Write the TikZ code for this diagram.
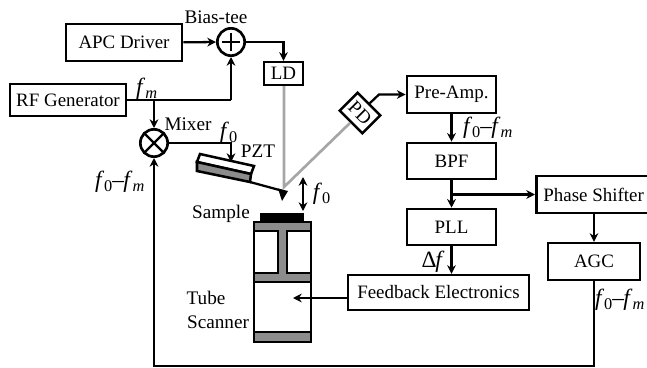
\documentclass[tikz,border=0pt]{standalone}
\usepackage{fontspec}
\setmainfont{Liberation Serif}
\usetikzlibrary{arrows.meta}
\newcommand{\fsym}[1]{\textit{f}\textsubscript{#1}}
\newcommand{\fdiff}{\textit{f}\textsubscript{0}\kern-.5pt--\kern-.5pt\textit{f}\textsubscript{\textit{m}}}
\tikzset{
  box/.style={draw=black,line width=1.9pt,inner sep=0pt,fill=white,font=\fontsize{14.2}{16}\selectfont,align=center},
  lab/.style={inner sep=0pt,font=\fontsize{14.4}{16}\selectfont,align=center},
  flab/.style={inner sep=0pt,font=\fontsize{17.5}{20}\selectfont},
  circ/.style={draw=black,circle,line width=2pt,minimum size=20.5pt,inner sep=0pt,fill=white},
  conn/.style={line width=1.7pt,-{Stealth[length=6.5pt,width=6.5pt]}},
  plain/.style={line width=1.7pt},
  beam/.style={draw=black!35,line width=2pt},
  part/.style={draw=black,line width=1.9pt},
  tubegrey/.style={draw=black,line width=1.9pt,fill=black!45}
}
\begin{document}
\begin{tikzpicture}[x=.75pt,y=-.75pt]
\useasboundingbox (0,0) rectangle (647,368);
% boxes
\node[box,minimum width=87pt,minimum height=27.5pt] (apc) at (124,42.5) {APC Driver};
\node[box,minimum width=87pt,minimum height=24pt] (rf) at (68,100) {RF Generator};
\node[box,minimum width=29pt,minimum height=17pt] (ld) at (283.5,73.5) {LD};
\node[box,minimum width=67pt,minimum height=27.5pt] (pre) at (451.5,94.5) {Pre-Amp.};
\node[box,minimum width=67pt,minimum height=27pt] (bpf) at (451.5,161) {BPF};
\node[box,minimum width=67pt,minimum height=27pt] (pll) at (451.5,227) {PLL};
\node[box,minimum width=136pt,minimum height=26pt] (fb) at (438.5,292.5) {Feedback Electronics};
\node[box,minimum width=86pt,minimum height=28pt,anchor=west] (ps) at (535,194.5) {Phase Shifter};
\node[box,minimum width=69pt,minimum height=27.5pt] (agc) at (594,261.5) {AGC};
\node[box,rotate=-45,minimum width=24pt,minimum height=19pt] (pd) at (360,113) {PD};
\node[circ] (plus) at (231,42) {};
\draw[line width=1.6pt] ([xshift=-6.5pt]plus.center) -- ([xshift=6.5pt]plus.center);
\draw[line width=1.6pt] ([yshift=-6.5pt]plus.center) -- ([yshift=6.5pt]plus.center);
\node[circ] (mix) at (154,143) {};
\draw[line width=1.8pt] (mix.45) -- (mix.225) (mix.135) -- (mix.315);
% cantilever and PZT
\coordinate (beamspot) at (284,187);
\draw[part,fill=white] (200,154) -- (254,166) -- (251,174) -- (197,162) -- cycle;
\draw[tubegrey] (197,162) -- (251,174) -- (250,182) -- (197,171) -- cycle;
\draw[line width=1.7pt] (250,182) -- (283,191);
\fill[black] (278,188.5) -- (288,191) -- (282,201) -- cycle;
% tube scanner
\fill[black] (260,213) rectangle (304,222);
\draw[part,fill=black!45] (254,222) rectangle (311,342);
\draw[part,fill=white] (254,231) rectangle (278,273);
\draw[part,fill=white] (287,231) rectangle (311,273);
\draw[part,fill=white] (254,282) rectangle (311,332);
\coordinate (tubein) at (293,298);
% connectors
\draw[conn] (apc) -- (plus);
\draw[plain] (rf.east) -- (231,100) coordinate (rfc);
\draw[conn] (rfc) -- (plus.south);
\coordinate (tap) at (mix.center |- rf.east);
\draw[conn] (tap) -- (mix.north);
\draw[conn] (plus.east) -| (ld.north);
\coordinate (pzttop) at (231,162);
\draw[conn] (mix.east) -| (pzttop);
\draw[beam] (ld.south -| beamspot) -- (beamspot) -- (pd.south);
\coordinate (pdk) at (379,94.5);
\draw[conn] (pd.north) -- (pdk) -- (pre.west);
\draw[conn] (pre) -- (bpf);
\draw[conn] (bpf) -- (pll);
\coordinate (tapb) at (bpf.south |- ps.west);
\draw[conn] (tapb) -- (ps.west);
\draw[conn] (pll) -- (fb.north -| pll.south);
\draw[conn] (ps.south -| agc.north) -- (agc.north);
\draw[conn] (fb.west |- tubein) -- (tubein);
\coordinate (bott) at (594,366);
\draw[conn] (agc.south) -- (bott) -| (mix.south);
\coordinate (oscA) at (303,177);
\coordinate (oscB) at (303,211);
\draw[line width=1.7pt,{Stealth[length=6.5pt,width=6.5pt]}-{Stealth[length=6.5pt,width=6.5pt]}] (oscA) -- (oscB);
% labels
\node[lab] (lbias) at (216,17) {Bias-tee};
\node[lab] (lmix) at (188,124) {Mixer};
\node[lab] (lpzt) at (258,151) {PZT};
\node[lab] (lsam) at (221,214) {Sample};
\node[lab] (ltube) at (206,298) {Tube};
\node[lab] (lscan) at (218,322) {Scanner};
\node[flab] (lfm) at (147,89) {\fsym{\textit{m}}};
\node[flab] (lf0a) at (229,133) {\fsym{0}};
\node[flab] (lf0b) at (322,194) {\fsym{0}};
\node[flab] (ld1) at (120,182) {\fdiff};
\node[flab] (ld2) at (488,128) {\fdiff};
\node[flab] (ld3) at (620,300) {\fdiff};
\node[flab] (ldf) at (433,262) {Δ\kern-1pt\textit{f}};
\end{tikzpicture}
\end{document}
